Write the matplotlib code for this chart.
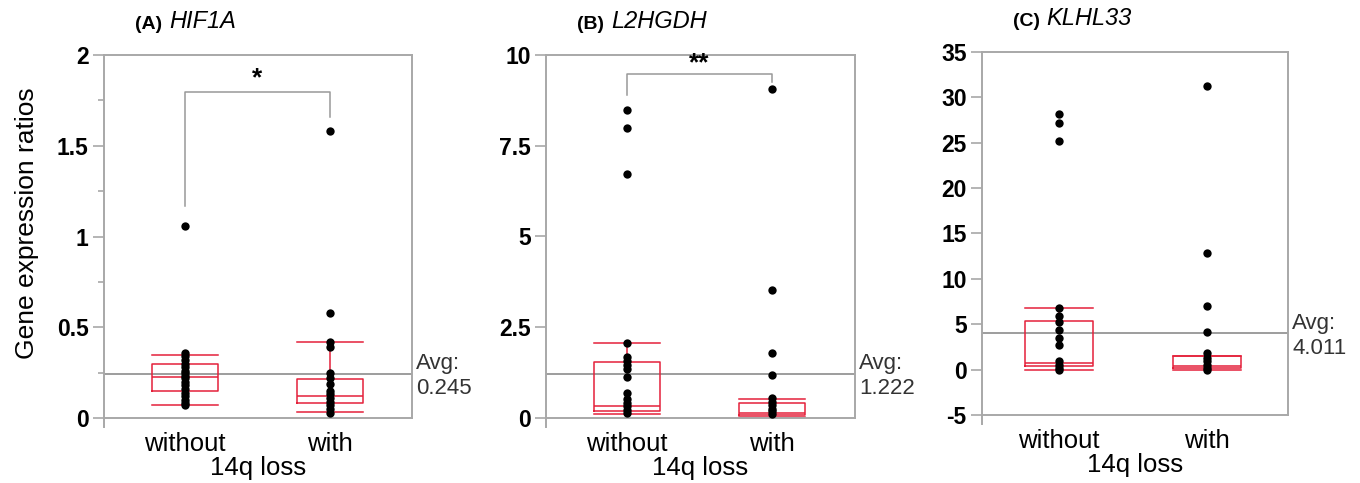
import matplotlib
matplotlib.use("Agg")
import matplotlib.pyplot as plt

plt.rcParams['font.family'] = ['Liberation Sans', 'DejaVu Sans']

groups = ['without', 'with']

# (A) HIF1A
a_without = [1.06, 0.36, 0.34, 0.32, 0.30, 0.28, 0.26, 0.25, 0.23, 0.22,
             0.20, 0.18, 0.16, 0.14, 0.12, 0.10, 0.08, 0.07]
a_with = [1.58, 0.58, 0.42, 0.39, 0.25, 0.22, 0.19, 0.15, 0.13, 0.11,
          0.09, 0.07, 0.05, 0.03]
# whislo, q1, med, q3, whishi
a_box_without = [0.072, 0.149, 0.224, 0.297, 0.349]
a_box_with = [0.031, 0.081, 0.123, 0.213, 0.42]
a_avg = 0.245

# (B) L2HGDH
b_without = [8.48, 7.98, 6.73, 2.07, 1.69, 1.58, 1.47, 1.36, 1.12, 0.68,
             0.52, 0.42, 0.32, 0.22, 0.14]
b_with = [9.07, 3.52, 1.79, 1.18, 0.55, 0.45, 0.35, 0.26, 0.18, 0.12]
b_box_without = [0.11, 0.20, 0.33, 1.55, 2.06]
b_box_with = [0.04, 0.08, 0.15, 0.42, 0.52]
b_avg = 1.222

# (C) KLHL33
c_without = [28.2, 27.2, 25.2, 6.8, 5.9, 5.2, 4.4, 3.45, 2.75, 1.0, 0.55, 0.2, 0.0]
c_with = [31.3, 12.8, 7.0, 4.15, 1.84, 1.3, 0.92, 0.55, 0.2, 0.0]
c_box_without = [0.0, 0.36, 0.73, 5.4, 6.76]
c_box_with = [0.0, 0.18, 0.44, 1.54, 1.54]
c_avg = 4.011

a_ticks = [0, 0.5, 1, 1.5, 2]
a_ticklabels = ['0', '0.5', '1', '1.5', '2']
b_ticks = [0, 2.5, 5, 7.5, 10]
b_ticklabels = ['0', '2.5', '5', '7.5', '10']
c_ticks = [-5, 0, 5, 10, 15, 20, 25, 30, 35]
c_ticklabels = ['-5', '0', '5', '10', '15', '20', '25', '30', '35']

FRAME = '#a8a8a8'
RED = '#e4213a'

fig = plt.figure(figsize=(13.6, 4.83), dpi=100)


def stats(v):
    return dict(whislo=v[0], q1=v[1], med=v[2], q3=v[3], whishi=v[4])


def panel(rect, letter, gene, pts, boxes, avg, ticks, labels, ylim, xlim, avgtxt):
    ax = fig.add_axes(rect)
    ax.set_xlim(*xlim)
    ax.set_ylim(*ylim)
    for s in ax.spines.values():
        s.set_color(FRAME)
        s.set_linewidth(1.4)
    ax.plot([0, 0], [0, -0.025], transform=ax.transAxes, color=FRAME,
            lw=1.4, clip_on=False)
    ax.axhline(avg, color='#8c8c8c', lw=1.2, zorder=1)
    red = dict(color=RED, lw=1.1)
    ax.bxp([stats(boxes[0]), stats(boxes[1])], positions=[0, 1], widths=0.46,
           capwidths=0.46, showfliers=False, boxprops=red, whiskerprops=red,
           capprops=red, medianprops=red, manage_ticks=False, zorder=2)
    for i, p in enumerate(pts):
        ax.scatter([i] * len(p), p, s=36, color='black', zorder=3, linewidths=0)
    ax.set_yticks(ticks)
    ax.set_yticklabels(labels, fontsize=16.5, fontweight='bold')
    ax.tick_params(axis='y', length=8, width=1.2, color=FRAME, pad=3)
    ax.set_xticks([0, 1])
    ax.set_xticklabels(groups, fontsize=18.5)
    ax.tick_params(axis='x', length=0, pad=10)
    ax.set_xlabel('14q loss', fontsize=18.5, labelpad=0)
    t = ax.text(0.1, 1.085, letter, transform=ax.transAxes, fontsize=14,
                fontweight='bold', va='center', ha='left')
    ax.annotate(gene, xy=(1, 0), xycoords=t, xytext=(5, 0),
                textcoords='offset points', fontsize=17, style='italic',
                va='bottom', ha='left')
    ax.annotate('Avg:\n' + avgtxt, xy=(1, avg), xycoords=ax.get_yaxis_transform(),
                xytext=(3, -2), textcoords='offset points', fontsize=16,
                color='#333333', va='center', ha='left', linespacing=1.25,
                annotation_clip=False)
    return ax


ax_a = panel([104 / 1360, 1 - 418 / 483, 308 / 1360, 363 / 483], '(A)', 'HIF1A',
             [a_without, a_with], [a_box_without, a_box_with], a_avg,
             a_ticks, a_ticklabels, (0, 2), (-0.56, 1.566), '0.245')
ax_a.set_yticks([0.25, 0.75, 1.25, 1.75], minor=True)
ax_a.tick_params(axis='y', which='minor', length=4, width=1.2, color=FRAME)
ax_a.plot([0, 0, 1, 1], [1.17, 1.795, 1.795, 1.66], color='#999999', lw=1.1)
ax_a.text(0.5, 1.87, '*', ha='center', va='center', fontsize=19, fontweight='bold')

ax_b = panel([546 / 1360, 1 - 418 / 483, 309 / 1360, 363 / 483], '(B)', 'L2HGDH',
             [b_without, b_with], [b_box_without, b_box_with], b_avg,
             b_ticks, b_ticklabels, (0, 10), (-0.56, 1.572), '1.222')
ax_b.plot([0, 0, 1, 1], [8.9, 9.47, 9.47, 9.26], color='#999999', lw=1.1)
ax_b.text(0.5, 9.76, '**', ha='center', va='center', fontsize=19, fontweight='bold')

ax_c = panel([982 / 1360, 1 - 415 / 483, 306 / 1360, 363 / 483], '(C)', 'KLHL33',
             [c_without, c_with], [c_box_without, c_box_with], c_avg,
             c_ticks, c_ticklabels, (-5, 35), (-0.52, 1.547), '4.011')

fig.text(27 / 1360, 1 - 223 / 483, 'Gene expression ratios', rotation=90,
         fontsize=19, ha='center', va='center')

fig.savefig('out.png', dpi=100)
